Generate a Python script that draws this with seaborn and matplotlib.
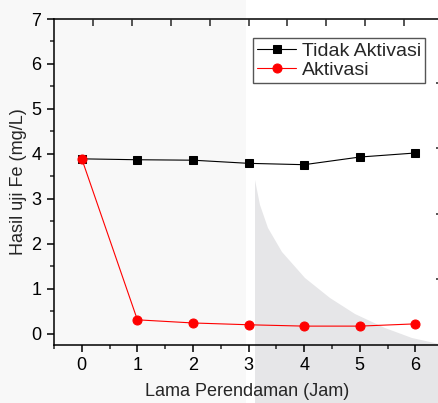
import matplotlib
matplotlib.use("Agg")
import matplotlib.pyplot as plt
import seaborn as sns
import pandas as pd
from matplotlib.patches import Polygon, Rectangle
from matplotlib.ticker import MultipleLocator

# Data
jam = [0, 1, 2, 3, 4, 5, 6]
tidak_aktivasi = [3.89, 3.87, 3.86, 3.79, 3.76, 3.93, 4.02]
aktivasi = [3.89, 0.31, 0.24, 0.20, 0.17, 0.17, 0.22]
series_names = ["Tidak Aktivasi", "Aktivasi"]
x_label = "Lama Perendaman (Jam)"
y_label = "Hasil uji Fe (mg/L)"

sns.set_style("ticks")
plt.rcParams['font.family'] = ['Liberation Sans', 'DejaVu Sans']

W, H = 439, 403
fig = plt.figure(figsize=(W / 100, H / 100), dpi=100, facecolor='#f8f8f8')

# background artifacts (scan-like shading)
fig.patches.append(Rectangle((246 / W, 0), (W - 246) / W, 1, transform=fig.transFigure,
                             facecolor='white', edgecolor='none', zorder=-3))
curve_px = [(255, 403), (255, 180), (260, 205), (268, 228), (282, 252), (305, 278),
            (330, 298), (355, 314), (385, 328), (412, 338), (439, 344), (439, 403)]
fig.patches.append(Polygon([(x / W, 1 - y / H) for x, y in curve_px], closed=True,
                           transform=fig.transFigure, facecolor='#e6e6e8',
                           edgecolor='none', zorder=-2))

ax = fig.add_axes([54 / W, (H - 345) / H, (W - 54) / W + 0.003, (345 - 19) / H])
ax.set_facecolor('none')

df1 = pd.DataFrame({"x": jam, "y": tidak_aktivasi})
df2 = pd.DataFrame({"x": jam, "y": aktivasi})
sns.lineplot(data=df1, x="x", y="y", ax=ax, color='black', marker='s', markersize=5.5,
             markeredgecolor='black', linewidth=0.8, label=series_names[0])
sns.lineplot(data=df2, x="x", y="y", ax=ax, color='red', marker='o', markersize=6.5,
             markeredgecolor='red', linewidth=0.8, label=series_names[1])

ax.set_xlim(-0.5, 6.45)
ax.set_ylim(-0.25, 7)
ax.set_xticks(jam)
ax.set_yticks(range(0, 8))
ax.xaxis.set_minor_locator(MultipleLocator(0.5))
ax.yaxis.set_minor_locator(MultipleLocator(0.5))
ax.tick_params(which='major', direction='out', length=5, width=1.1, labelsize=13,
               pad=4, colors='black')
ax.tick_params(which='minor', direction='out', length=3, width=1.1)
ax.set_xlabel(x_label, fontsize=13, labelpad=6)
ax.set_ylabel(y_label, fontsize=13, labelpad=3)
for s in ax.spines.values():
    s.set_linewidth(1.1)
    s.set_color('black')

# top and right decorative ticks
axt = ax.twiny()
axt.set_xlim(-1, 8.93)
axt.set_xticks(range(9))
axt.tick_params(direction='in', length=5, width=1.1, labeltop=False)
axr = ax.twinx()
axr.set_ylim(-1, 3.97)
axr.set_yticks(range(4))
axr.tick_params(direction='in', length=3, width=1.1, labelright=False)
for a in (axt, axr):
    a.set_facecolor('none')
    for s in a.spines.values():
        s.set_visible(False)

handles, labels = ax.get_legend_handles_labels()
ax.legend_.remove()
leg = axr.legend(handles, labels, loc='upper right', bbox_to_anchor=(425 / W, 1 - 38 / H),
                 bbox_transform=fig.transFigure, borderaxespad=0, fontsize=14,
                 frameon=True, fancybox=False, edgecolor='#555555', framealpha=1,
                 handlelength=2.0, handletextpad=0.3, borderpad=0.2, labelspacing=0.1)
leg.get_frame().set_linewidth(1.0)
leg.get_frame().set_facecolor('white')

fig.savefig("out.png", dpi=100, facecolor=fig.get_facecolor())
